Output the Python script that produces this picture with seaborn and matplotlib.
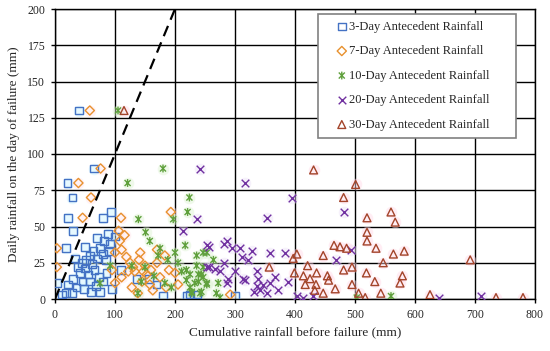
"""Antecedent rainfall scatter: daily vs cumulative rainfall before failure."""
import numpy as np
import pandas as pd
import matplotlib
matplotlib.use("Agg")
import matplotlib.pyplot as plt
from matplotlib.path import Path
import seaborn as sns

sns.set_style("ticks")
plt.rcParams['font.family'] = ['Liberation Serif', 'DejaVu Serif']

# data (mm)
day3_x = [40, 65, 21, 29, 93, 22, 80, 30, 18, 50, 70, 82, 88, 92, 75, 64, 58, 52, 45, 38, 50, 62,
          70, 80, 90, 42, 56, 66, 73, 30, 46, 58, 68, 80, 22, 36, 48, 60, 75, 28, 12, 86, 95, 110,
          136, 157, 169, 180, 219, 225, 237, 300, 100, 85, 33, 4, 18]
day3_y = [130, 90, 80, 70, 60, 56, 56, 47, 35, 36, 42, 40, 45, 38, 35, 33, 30, 27, 25, 22, 21, 24,
          28, 31, 33, 18, 17, 20, 15, 14, 12, 12, 9, 12, 10, 8, 7, 5, 5, 4, 3, 18, 7, 20,
          14, 14, 10, 2, 2, 3, 3, 2, 43, 27, 28, 11, 4]

day7_x = [58, 76, 39, 60, 193, 46, 110, 106, 3, 3, 108, 100, 111, 119, 133, 142, 147, 153, 158, 183,
          122, 111, 100, 163, 138, 292, 125, 130, 140, 150, 160, 170, 175, 190, 200, 145, 128, 185,
          205, 116, 95, 170]
day7_y = [130, 90, 80, 70, 60, 56, 56, 47, 35, 22, 40, 32, 34, 29, 19, 32, 19, 17, 10, 30,
          19, 15, 11, 6, 4, 3, 25, 22, 27, 23, 20, 25, 15, 20, 18, 12, 8, 8,
          10, 44, 20, 34]

day10_x = [105, 180, 121, 224, 221, 139, 197, 151, 158, 175, 172, 188, 200, 217, 247, 92, 75, 128,
           150, 144, 138, 183, 194, 211, 219, 225, 219, 239, 244, 228, 242, 253, 225, 236, 253, 264,
           236, 247, 239, 247, 233, 253, 272, 244, 269, 228, 275, 503, 560, 165, 205]
day10_y = [130, 90, 80, 70, 60, 55, 55, 46, 40, 35, 30, 27, 32, 37, 32, 23, 11, 23,
           22, 12, 4, 11, 8, 19, 20, 17, 13, 12, 17, 5, 4, 10, 8, 30, 32, 27,
           23, 22, 17, 15, 11, 11, 11, 5, 4, 4, 1, 1, 2, 16, 25]

day20_x = [242, 236, 214, 317, 395, 481, 353, 256, 281, 286, 295, 308, 311, 322, 328, 358, 383, 256,
           267, 275, 281, 289, 286, 300, 314, 317, 336, 339, 367, 389, 336, 342, 331, 347, 358, 372,
           353, 414, 430, 469, 494, 640, 710, 253, 253, 404]
day20_y = [90, 55, 47, 80, 70, 60, 56, 36, 38, 40, 35, 35, 29, 27, 33, 32, 32, 22,
           21, 19, 25, 14, 11, 19, 14, 13, 19, 14, 15, 12, 9, 6, 5, 10, 11, 6,
           4, 1, 2, 27, 34, 1, 2, 37, 22, 2]

day30_x = [115, 431, 501, 481, 520, 520, 520, 465, 475, 486, 447, 403, 397, 357, 399, 421, 436, 414,
           425, 454, 456, 481, 495, 417, 435, 433, 447, 467, 495, 506, 517, 560, 567, 535, 564, 582,
           547, 692, 519, 533, 579, 575, 543, 625, 735, 780]
day30_y = [130, 89, 79, 70, 56, 46, 40, 37, 36, 35, 30, 31, 28, 22, 18, 23, 18, 16,
           14, 16, 13, 20, 22, 10, 10, 6, 4, 7, 10, 4, 1, 60, 53, 35, 31, 33,
           25, 27, 18, 12, 16, 11, 4, 3, 1, 1]

labels = ["3-Day Antecedent Rainfall", "7-Day Antecedent Rainfall", "10-Day Antecedent Rainfall",
          "20-Day Antecedent Rainfall", "30-Day Antecedent Rainfall"]

frames = []
for lab, xs, ys in zip(labels, [day3_x, day7_x, day10_x, day20_x, day30_x],
                       [day3_y, day7_y, day10_y, day20_y, day30_y]):
    frames.append(pd.DataFrame({"cum": xs, "daily": ys, "series": lab}))
df = pd.concat(frames, ignore_index=True)

# Excel-like "star" marker: an X with a vertical bar
star = Path([(-1, -1), (1, 1), (-1, 1), (1, -1), (0, -1.3), (0, 1.3)],
            [Path.MOVETO, Path.LINETO, Path.MOVETO, Path.LINETO, Path.MOVETO, Path.LINETO])

styles = {
    labels[0]: dict(marker="s", color="#4472C4", glow="#C8F2FF", s=30),
    labels[1]: dict(marker="D", color="#E8912E", glow="#FFE3EA", s=22),
    labels[2]: dict(marker=star, color="#5FA03C", glow="#DDF2D2", s=32),
    labels[3]: dict(marker="x", color="#7030A0", glow="#ECE2F7", s=30),
    labels[4]: dict(marker="^", color="#A3442A", glow="#FFD9E8", s=32),
}

fig = plt.figure(figsize=(5.5, 3.51), dpi=100)
ax = fig.add_axes([55 / 550, 1 - 299 / 351, 480 / 550, 290 / 351])

# soft glow behind markers
for lab in labels:
    st = styles[lab]
    sub = df[df.series == lab]
    ax.scatter(sub.cum, sub.daily, marker="o", s=70, color=st["glow"], alpha=0.45,
               linewidths=0, zorder=2)

for lab in labels:
    st = styles[lab]
    sub = df[df.series == lab]
    if st["marker"] == "x":
        sns.scatterplot(data=sub, x="cum", y="daily", ax=ax, marker="x", s=st["s"],
                        color=st["color"], linewidth=1.0, label=lab, zorder=3)
    else:
        sns.scatterplot(data=sub, x="cum", y="daily", ax=ax, marker=st["marker"], s=st["s"],
                        facecolor="none", edgecolor=st["color"], linewidth=1.0, label=lab, zorder=3)

# 1:1 line
ax.plot([0, 200], [0, 200], color="black", ls=(0, (5, 3)), lw=1.6, zorder=4)

ax.set_xlim(0, 800)
ax.set_ylim(0, 200)
ax.set_xticks(np.arange(0, 801, 100))
ax.set_yticks(np.arange(0, 201, 25))
ax.grid(True, color="black", lw=1.0)
ax.set_axisbelow(True)
for sp in ax.spines.values():
    sp.set_color("black")
    sp.set_linewidth(1.0)
ax.tick_params(labelsize=8.5, length=3, width=1, color="black", pad=4)
ax.set_xlabel("Cumulative rainfall before failure (mm)", fontsize=9.5, labelpad=4)
ax.set_ylabel("Daily rainfall on the day of failure (mm)", fontsize=9.5, labelpad=5)

leg = ax.legend(loc="upper left", bbox_to_anchor=(0.548, 0.552, 0.412, 0.431), mode="expand",
                borderaxespad=0, fontsize=9, frameon=True, fancybox=False, edgecolor="#808080",
                framealpha=1, labelspacing=1.0, handlelength=2.7, handletextpad=-0.8,
                borderpad=0.55)
leg.get_frame().set_linewidth(1.2)
leg.set_zorder(10)

fig.savefig("out.png", dpi=100)
print("Saved out.png")
